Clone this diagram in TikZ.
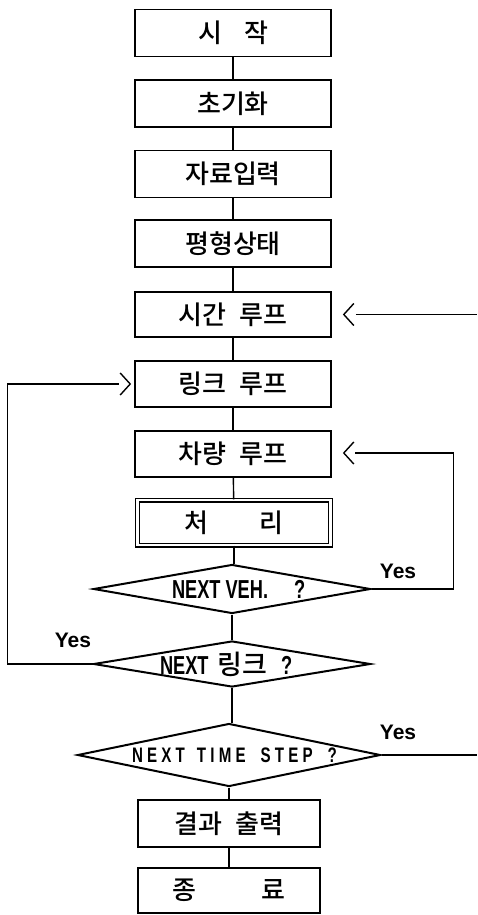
\documentclass[tikz,border=0pt]{standalone}
\usepackage{fontspec}
\usetikzlibrary{shapes.geometric,calc}
\newfontfamily\kor{Noto Sans CJK KR Medium}
\newfontfamily\lat{Liberation Sans}
\newfontfamily\latn{Liberation Sans}[FakeStretch=0.7]
\newfontfamily\latt{Liberation Sans}[FakeStretch=0.72,LetterSpace=20]
\begin{document}
\begin{tikzpicture}[x=1pt,y=-1pt,
  box/.style={draw,line width=1.6pt,minimum width=196pt,minimum height=47pt,inner sep=0pt,
    font=\kor\fontsize{26}{28}\selectfont},
  lowbox/.style={box,minimum width=182pt},
  dbox/.style={box,double,double distance=2.2pt,line width=1.4pt,minimum width=193pt,minimum height=45pt},
  dia/.style={draw,diamond,line width=2pt,inner sep=0pt},
  conn/.style={line width=1.4pt},
  yes/.style={font=\lat\bfseries\fontsize{21}{24}\selectfont,inner sep=0pt}]
\useasboundingbox (0,0) rectangle (477,915);
% boxes
\node[box] (start) at (233,33) {시\hspace{0.85em}작};
\node[box] (init) at (233,103.5) {초기화};
\node[box] (input) at (233,174) {자료입력};
\node[box] (eq) at (233,243.5) {평형상태};
\node[box,minimum height=45pt] (time) at (233,314.5) {시간\hspace{0.5em}루프};
\node[box,minimum height=46pt] (link) at (233,384) {링크\hspace{0.5em}루프};
\node[box,minimum height=46pt] (veh) at (233,454) {차량\hspace{0.5em}루프};
\node[dbox] (proc) at (234,522.5) {처\hspace{1.95em}리};
% decisions
\node[dia,minimum width=277pt,minimum height=49pt] (dv) at (232,589)
  {\makebox[0pt][l]{\hspace{-60pt}\latn\bfseries\fontsize{26}{28}\selectfont NEXT VEH.\hspace{26pt}?}};
\node[dia,minimum width=277pt,minimum height=46pt] (dl) at (232,664)
  {\makebox[0pt][l]{\hspace{-72pt}\latn\bfseries\fontsize{26}{28}\selectfont NEXT\hspace{9pt}{\kor\mdseries\fontsize{27}{28}\selectfont 링크}\hspace{14pt}?}};
\node[dia,minimum width=303pt,minimum height=63pt] (dt) at (229,755)
  {\makebox[0pt][l]{\hspace{-97pt}\latt\bfseries\fontsize{21}{24}\selectfont NEXT\hspace{12pt}TIME\hspace{15pt}STEP\hspace{15pt}?}};
\node[lowbox] (res) at (229,823.5) {결과\hspace{0.5em}출력};
\node[lowbox,minimum height=45pt] (stop) at (229,890.5) {종\hspace{2.5em}료};
% spine
\draw[conn] (start) -- (init);
\draw[conn] (init) -- (input);
\draw[conn] (input) -- (eq);
\draw[conn] (eq) -- (time);
\draw[conn] (time) -- (link);
\draw[conn] (link) -- (veh);
\draw[conn] (veh) -- (proc);
\draw[conn] (proc.south) -- (proc.south |- dv.north);
\draw[conn] (dv.south) -- (dl.north);
\draw[conn] (dl.south) -- (dl.south |- dt.north);
\draw[conn] (res.north |- dt.south) -- (res.north);
\draw[conn] (res) -- (stop);
% loop tips
\coordinate (tc) at ($(time.east)+(12,0)$);
\coordinate (vc) at ($(veh.east)+(12,-1)$);
\coordinate (lc) at ($(link.west)+(-4,0)$);
\coordinate (edgeR) at (477,0);
\draw[conn] ($(tc)+(10,11)$) -- (tc) -- ($(tc)+(10,-11)$);
\draw[conn] ($(vc)+(10,11)$) -- (vc) -- ($(vc)+(10,-11)$);
\draw[conn] ($(lc)+(-10,11)$) -- (lc) -- ($(lc)+(-10,-11)$);
% loops
\draw[conn] (dv.east) -- ++(82,0) |- ($(vc)+(11,0)$);
\draw[conn] (dl.west) -- ++(-85,0) |- ($(lc)+(-11,0)$);
\draw[conn] (dt.east) -- (dt.east -| edgeR);
\draw[conn] ($(tc)+(12,0)$) -- (tc -| edgeR);
% labels
\node[yes] (y1) at (398,571) {Yes};
\node[yes] (y2) at (73,640) {Yes};
\node[yes] (y3) at (398,732) {Yes};
\end{tikzpicture}
\end{document}
